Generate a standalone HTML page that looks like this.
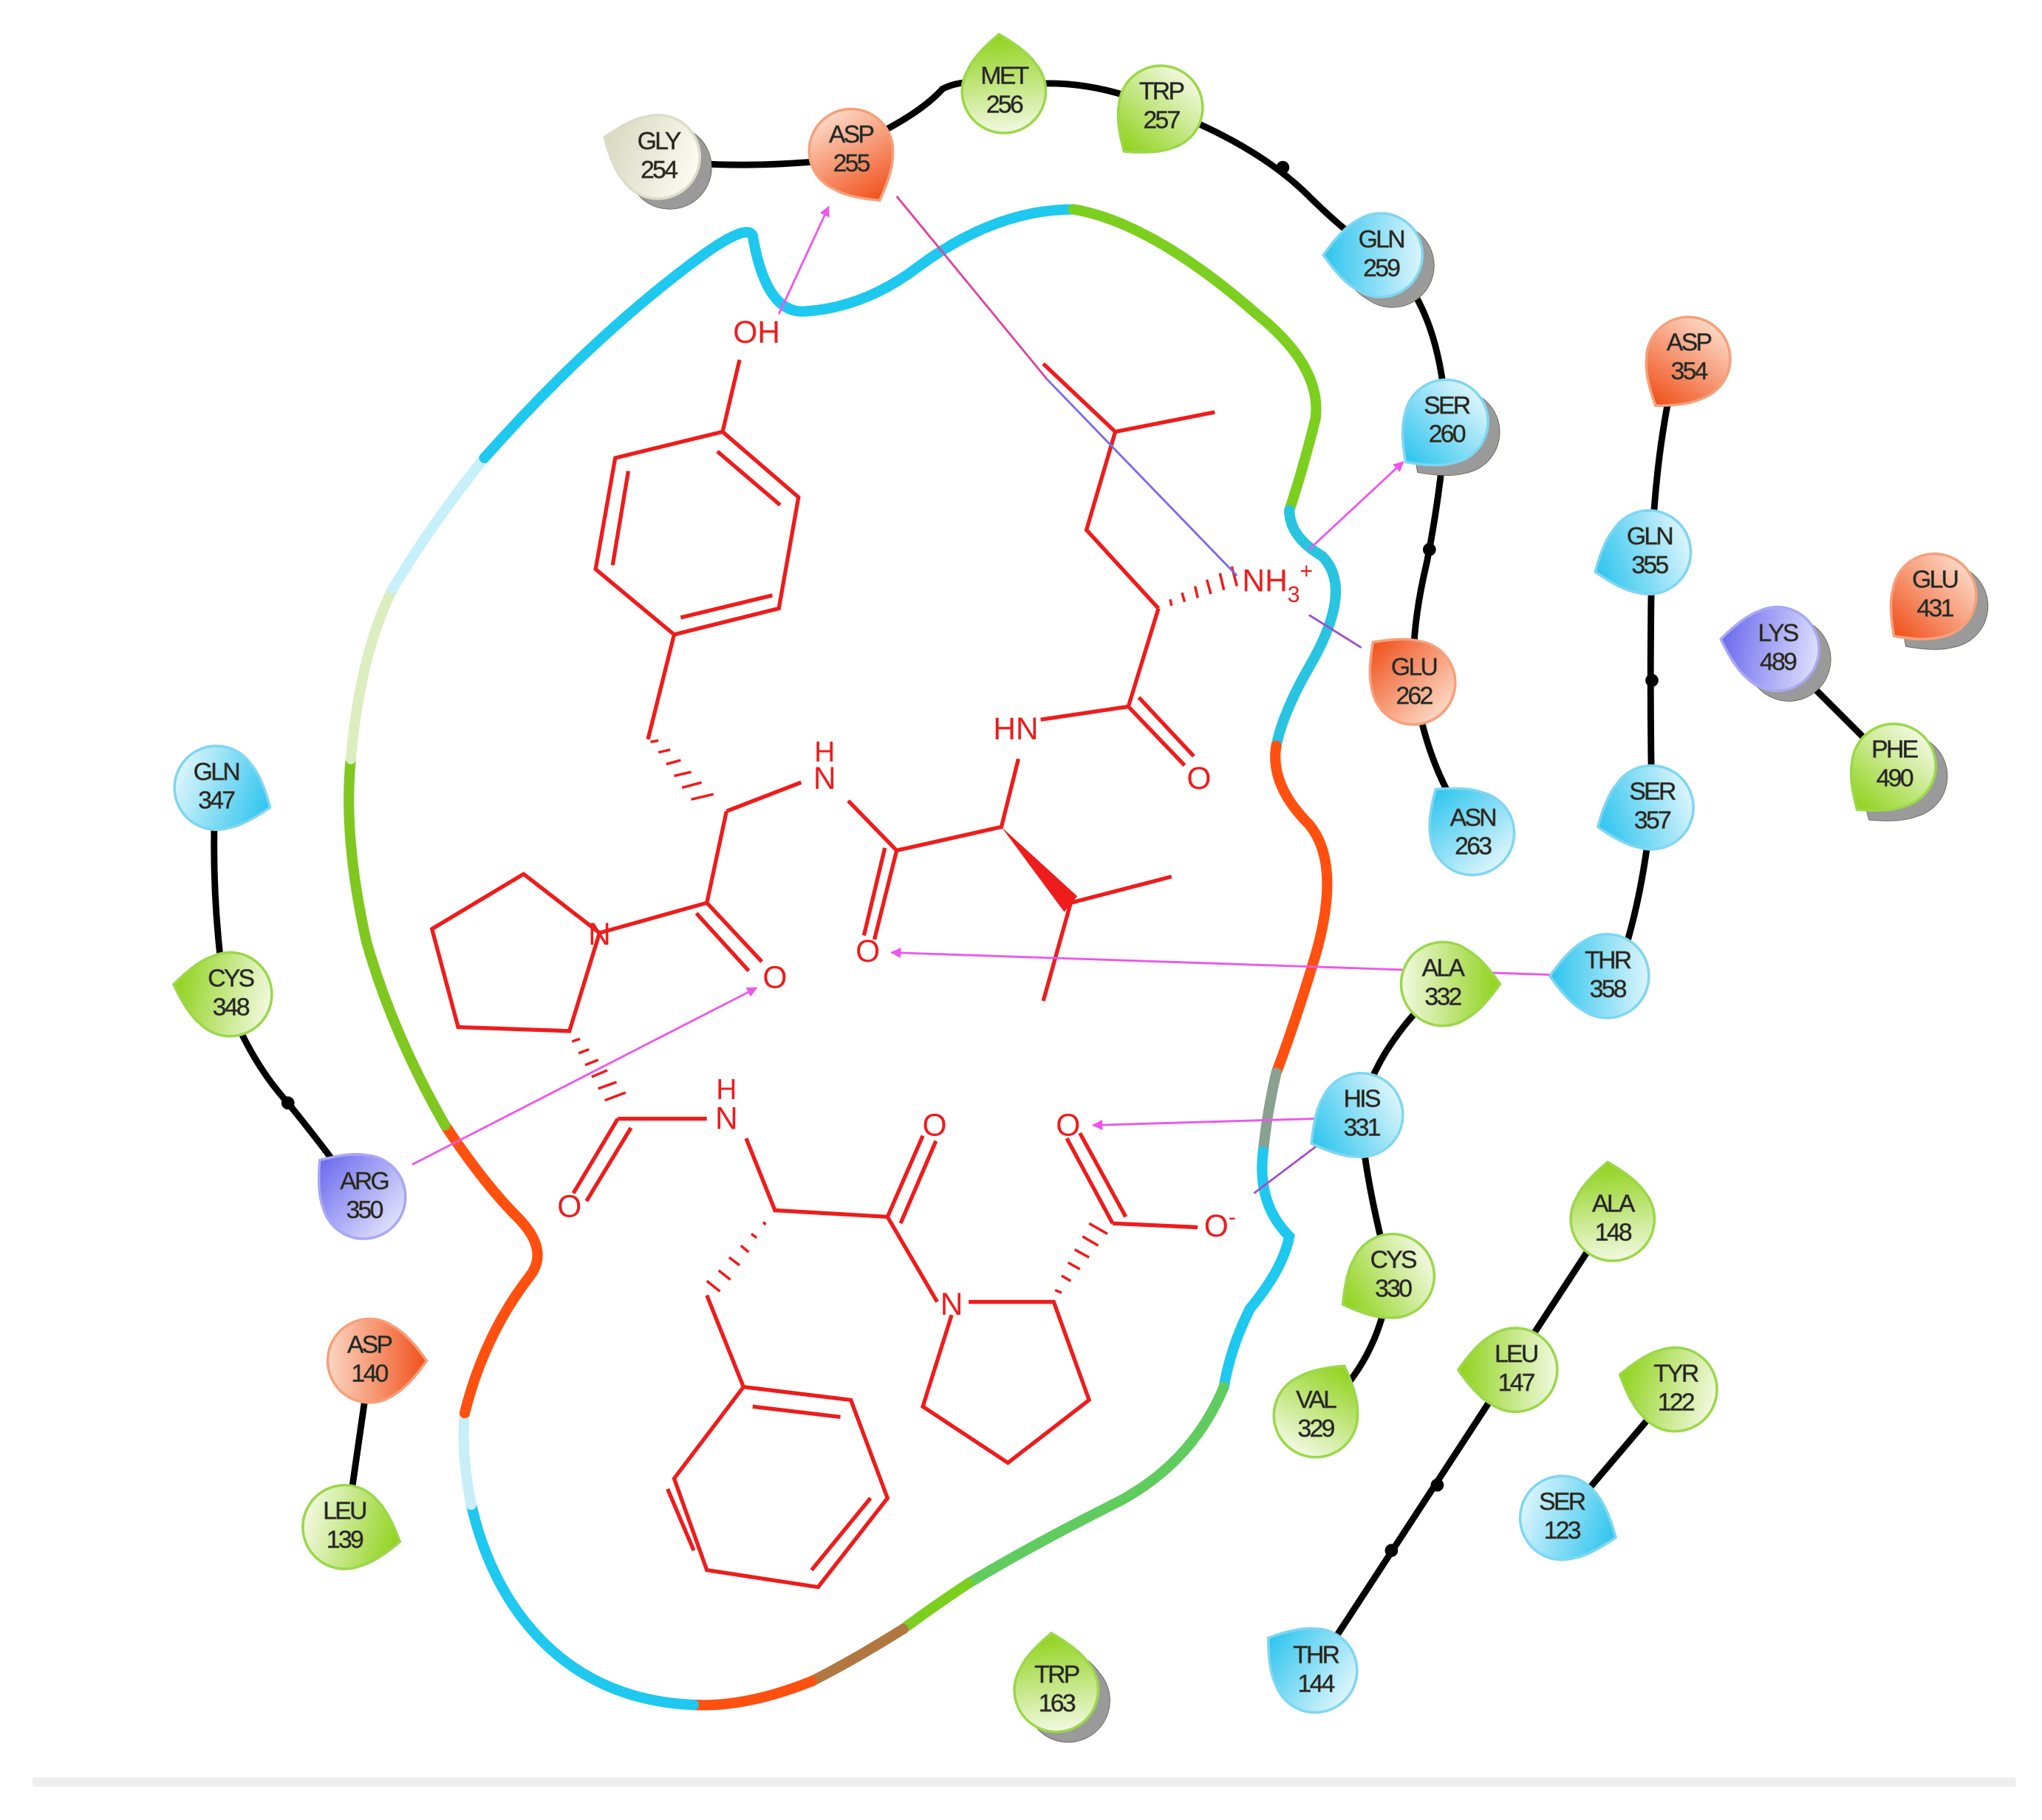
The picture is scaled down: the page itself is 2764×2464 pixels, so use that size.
<!DOCTYPE html>
<html><head><meta charset="utf-8"><style>
html,body{margin:0;padding:0;background:#fff}
svg{display:block}
text{font-family:"Liberation Sans",sans-serif}
</style></head><body>
<svg width="2764" height="2464" viewBox="0 0 1560 1391" preserveAspectRatio="none" xmlns="http://www.w3.org/2000/svg">
<defs>
<linearGradient id="gG" gradientUnits="userSpaceOnUse" x1="44" y1="0" x2="-30" y2="0"><stop offset="0" stop-color="#8fd21a"/><stop offset="1" stop-color="#f0f8dc"/></linearGradient>
<linearGradient id="gC" gradientUnits="userSpaceOnUse" x1="44" y1="0" x2="-30" y2="0"><stop offset="0" stop-color="#2cc4ee"/><stop offset="1" stop-color="#d8f4fc"/></linearGradient>
<linearGradient id="gO" gradientUnits="userSpaceOnUse" x1="44" y1="0" x2="-30" y2="0"><stop offset="0" stop-color="#f0501a"/><stop offset="1" stop-color="#fcd4c0"/></linearGradient>
<linearGradient id="gP" gradientUnits="userSpaceOnUse" x1="44" y1="0" x2="-30" y2="0"><stop offset="0" stop-color="#6a6aee"/><stop offset="1" stop-color="#dcdcfc"/></linearGradient>
<linearGradient id="gW" gradientUnits="userSpaceOnUse" x1="44" y1="0" x2="-30" y2="0"><stop offset="0" stop-color="#d8d8c0"/><stop offset="1" stop-color="#fafaf2"/></linearGradient>
<path id="tear" d="M44 0 Q30 -20 19 -26 A32 32 0 1 0 19 26 Q30 20 44 0 Z"/>
<g id="G"><use href="#tear" fill="url(#gG)" stroke="#9ad84a" stroke-width="2"/></g>
<g id="C"><use href="#tear" fill="url(#gC)" stroke="#7fd6f2" stroke-width="2"/></g>
<g id="O"><use href="#tear" fill="url(#gO)" stroke="#f6a07a" stroke-width="2"/></g>
<g id="P"><use href="#tear" fill="url(#gP)" stroke="#a8a8f4" stroke-width="2"/></g>
<g id="W"><use href="#tear" fill="url(#gW)" stroke="#dcdcc8" stroke-width="2"/></g>
<g id="S"><use href="#tear" fill="#9a9a9a"/></g>
<marker id="ar" viewBox="0 0 10 10" refX="9" refY="5" markerWidth="5" markerHeight="5" orient="auto"><path d="M0 0L10 5L0 10Z" fill="#ee55ee"/></marker>
</defs>

<g fill="none" stroke="#000" stroke-width="5" stroke-linecap="round">
<path d="M503 122 Q560 130 640 122"/>
<path d="M650 112 Q700 90 720 68 Q740 58 765 68 Q820 55 885 82"/>
<path d="M885 82 Q960 110 1000 150 Q1030 180 1055 195"/>
<path d="M1055 195 Q1100 230 1105 322"/>
<path d="M1105 322 Q1100 380 1090 430 Q1078 480 1080 520"/>
<path d="M1080 520 Q1090 590 1125 635"/>
<path d="M1282 272 Q1265 340 1262 420 Q1260 520 1262 615 Q1255 690 1235 745"/>
<path d="M1355 495 L1445 585"/>
<path d="M1105 750 Q1050 800 1040 850 Q1040 890 1062 975 Q1055 1040 1008 1080"/>
<path d="M1230 930 L1155 1045 L1005 1275"/>
<path d="M1280 1060 L1195 1160"/>
<path d="M165 600 Q160 680 172 760 Q190 810 220 843 Q250 880 275 915"/>
<path d="M283 1040 L265 1165"/>
</g>
<g fill="#000"><circle cx="980" cy="128" r="5"/><circle cx="1092" cy="420" r="5"/><circle cx="1262" cy="520" r="5"/><circle cx="1098" cy="1135" r="5"/><circle cx="1063" cy="1185" r="5"/><circle cx="220" cy="843" r="5"/></g>

<g fill="none" stroke-width="8" stroke-linecap="round">
<path stroke="#1ec8ee" d="M575 180 Q585 240 615 238 Q660 235 700 205 Q760 160 820 160"/>
<path stroke="#7ccf1e" d="M820 160 Q880 170 960 240 Q1010 280 1005 320 Q995 360 985 390"/>
<path stroke="#28c4e0" d="M985 390 Q985 410 1010 425 Q1035 450 1000 510 Q980 545 975 570"/>
<path stroke="#ff5010" d="M975 570 Q970 600 1000 630 Q1025 660 1005 730 Q990 780 975 820"/>
<path stroke="#8aa090" d="M975 820 Q968 850 965 880"/>
<path stroke="#1ec8ee" d="M965 880 Q960 920 985 945 Q980 970 955 1000 Q940 1030 935 1060"/>
<path stroke="#60cc60" d="M935 1060 Q910 1120 850 1150 Q790 1180 740 1210"/>
<path stroke="#7ccf1e" d="M740 1210 Q710 1230 690 1245"/>
<path stroke="#b07840" d="M690 1245 Q650 1270 620 1285"/>
<path stroke="#ff5010" d="M620 1285 Q570 1305 530 1303"/>
<path stroke="#1ec8ee" d="M530 1303 Q460 1300 415 1255 Q375 1215 360 1150"/>
<path stroke="#c8eef8" d="M360 1150 Q352 1110 355 1080"/>
<path stroke="#ff5010" d="M355 1080 Q370 1020 405 975 Q420 955 395 930 Q370 905 340 860"/>
<path stroke="#80c820" d="M340 860 Q300 790 280 720 Q262 640 268 580"/>
<path stroke="#dceec0" d="M268 580 Q275 500 300 450"/>
<path stroke="#c8f0fa" d="M300 450 Q330 400 370 350"/>
<path stroke="#1ec8ee" d="M370 350 Q450 260 530 200 Q570 170 575 180"/>
</g>

<g fill="none" stroke="#ee1c1c" stroke-width="3">
<path d="M552 330 L610 380 L595 465 L515 485 L455 435 L470 350 Z"/>
<path d="M548 345 L596 386 M590 455 L520 472 M468 432 L480 360"/>
<path d="M552 330 L565 275"/>
<path d="M515 485 L495 565"/>
<path d="M555 620 L612 598 M648 612 L685 650"/>
<path d="M555 620 L540 690 L458 713 L400 668 L330 710 L350 785 L435 788 L458 713"/>
<path d="M540 690 L582 735 M532 698 L572 742"/>
<path d="M472 855 L540 855"/>
<path d="M472 855 L438 912 M482 862 L448 918"/>
<path d="M570 870 L592 925 L678 930 L716 995"/>
<path d="M678 930 L705 868 M688 935 L715 872"/>
<path d="M727 1005 L705 1075 L770 1118 L832 1070 L805 995 L740 995"/>
<path d="M850 935 L915 938"/>
<path d="M850 935 L815 870 M860 930 L825 866"/>
<path d="M540 990 L568 1060"/>
<path d="M568 1060 L650 1070 L678 1145 L625 1213 L540 1200 L515 1130 Z"/>
<path d="M575 1075 L642 1083 M665 1145 L620 1200 M530 1185 L510 1138"/>
<path d="M685 650 L765 632 L778 580"/>
<path d="M685 650 L668 718 M676 648 L660 715"/>
<path d="M818 690 L895 670 M818 690 L797 765"/>
<path d="M795 550 L862 540 L885 465"/>
<path d="M862 540 L905 585 M870 533 L912 578"/>
<path d="M885 465 L830 405 L852 330 L928 315 M852 330 L797 278"/>
</g>
<path d="M765 632 L813 697 L823 685 Z" fill="#ee1c1c"/>
<g stroke="#ee1c1c" stroke-width="2">
<path d="M497 567 l6 -1 M503 575 l9 -2 M509 584 l11 -3 M515 593 l13 -3 M521 602 l15 -4 M528 611 l17 -4"/>
<path d="M437 796 l6 -2 M442 805 l8 -3 M447 814 l10 -4 M452 823 l12 -5 M457 832 l14 -5 M462 841 l16 -6"/>
<path d="M583 934 l2 2 M574 943 l4 3 M566 952 l6 5 M557 961 l8 6 M549 971 l9 7 M540 979 l10 8"/>
<path d="M811 988 l-5 -2 M818 979 l-7 -4 M825 970 l-9 -5 M832 961 l-11 -6 M839 952 l-12 -7 M846 943 l-14 -8"/>
<path d="M895 463 l-1 -5 M905 460 l-2 -7 M915 457 l-2 -9 M925 454 l-3 -11 M935 451 l-3 -13 M945 448 l-4 -15"/>
</g>
<g fill="#ee1c1c" font-size="24" text-anchor="middle">
<text x="578" y="262">OH</text>
<text x="630" y="582" font-size="22">H</text><text x="630" y="603">N</text>
<text x="458" y="722">N</text>
<text x="592" y="755">O</text>
<text x="663" y="735">O</text>
<text x="916" y="603">O</text>
<text x="776" y="565">HN</text>
<text x="976" y="452">NH<tspan font-size="17" dy="8">3</tspan><tspan font-size="17" dy="-18">+</tspan></text>
<text x="555" y="840" font-size="22">H</text><text x="555" y="863">N</text>
<text x="435" y="930">O</text>
<text x="714" y="868">O</text>
<text x="816" y="868">O</text>
<text x="727" y="1005">N</text>
<text x="932" y="945">O<tspan font-size="17" dy="-9">-</tspan></text>
</g>

<g fill="none" stroke-width="1.6">
<path stroke="#ee55ee" d="M595 240 L633 158" marker-end="url(#ar)"/>
<path stroke="#e040a0" d="M685 150 L800 290"/>
<path stroke="#7a6ae8" d="M800 290 L945 440"/>
<path stroke="#ee55ee" d="M1000 420 L1072 353" marker-end="url(#ar)"/>
<path stroke="#a050c8" d="M1000 470 L1040 495"/>
<path stroke="#ee55ee" d="M1185 745 L681 728" marker-end="url(#ar)"/>
<path stroke="#ee55ee" d="M1005 855 L835 860" marker-end="url(#ar)"/>
<path stroke="#a050c8" d="M1007 875 L958 912"/>
<path stroke="#ee55ee" d="M315 890 L578 755" marker-end="url(#ar)"/>
</g>

<g font-size="19" text-anchor="middle" fill="#222" letter-spacing="-1.5" stroke="#554" stroke-width="0.4">
<g transform="translate(503,120)"><use href="#S" transform="translate(9,8) rotate(200)"/><use href="#W" transform="rotate(200)"/><text y="-6">GLY</text><text y="16">254</text></g>
<g transform="translate(650,115)"><use href="#O" transform="rotate(60)"/><text y="-6">ASP</text><text y="16">255</text></g>
<g transform="translate(767,70)"><use href="#G" transform="rotate(-95)"/><text y="-6">MET</text><text y="16">256</text></g>
<g transform="translate(887,82)"><use href="#G" transform="rotate(130)"/><text y="-6">TRP</text><text y="16">257</text></g>
<g transform="translate(1055,195)"><use href="#S" transform="translate(9,8) rotate(180)"/><use href="#C" transform="rotate(180)"/><text y="-6">GLN</text><text y="16">259</text></g>
<g transform="translate(1105,322)"><use href="#S" transform="translate(9,8) rotate(135)"/><use href="#C" transform="rotate(135)"/><text y="-6">SER</text><text y="16">260</text></g>
<g transform="translate(1080,522)"><use href="#O" transform="rotate(-135)"/><text y="-6">GLU</text><text y="16">262</text></g>
<g transform="translate(1125,637)"><use href="#C" transform="rotate(-130)"/><text y="-6">ASN</text><text y="16">263</text></g>
<g transform="translate(1290,274)"><use href="#O" transform="rotate(125)"/><text y="-6">ASP</text><text y="16">354</text></g>
<g transform="translate(1260,422)"><use href="#C" transform="rotate(160)"/><text y="-6">GLN</text><text y="16">355</text></g>
<g transform="translate(1478,455)"><use href="#S" transform="translate(9,8) rotate(135)"/><use href="#O" transform="rotate(135)"/><text y="-6">GLU</text><text y="16">431</text></g>
<g transform="translate(1358,496)"><use href="#S" transform="translate(9,8) rotate(190)"/><use href="#P" transform="rotate(190)"/><text y="-6">LYS</text><text y="16">489</text></g>
<g transform="translate(1447,585)"><use href="#S" transform="translate(9,8) rotate(130)"/><use href="#G" transform="rotate(130)"/><text y="-6">PHE</text><text y="16">490</text></g>
<g transform="translate(1262,617)"><use href="#C" transform="rotate(160)"/><text y="-6">SER</text><text y="16">357</text></g>
<g transform="translate(1228,746)"><use href="#C" transform="rotate(180)"/><text y="-6">THR</text><text y="16">358</text></g>
<g transform="translate(1102,752)"><use href="#G" transform="rotate(0)"/><text y="-6">ALA</text><text y="16">332</text></g>
<g transform="translate(1040,852)"><use href="#C" transform="rotate(150)"/><text y="-6">HIS</text><text y="16">331</text></g>
<g transform="translate(1064,975)"><use href="#G" transform="rotate(150)"/><text y="-6">CYS</text><text y="16">330</text></g>
<g transform="translate(1232,932)"><use href="#G" transform="rotate(-95)"/><text y="-6">ALA</text><text y="16">148</text></g>
<g transform="translate(1005,1082)"><use href="#G" transform="rotate(-60)"/><text y="-6">VAL</text><text y="16">329</text></g>
<g transform="translate(1158,1047)"><use href="#G" transform="rotate(180)"/><text y="-6">LEU</text><text y="16">147</text></g>
<g transform="translate(1280,1062)"><use href="#G" transform="rotate(-165)"/><text y="-6">TYR</text><text y="16">122</text></g>
<g transform="translate(1193,1160)"><use href="#C" transform="rotate(20)"/><text y="-6">SER</text><text y="16">123</text></g>
<g transform="translate(1005,1277)"><use href="#C" transform="rotate(-145)"/><text y="-6">THR</text><text y="16">144</text></g>
<g transform="translate(807,1292)"><use href="#S" transform="translate(9,8) rotate(-95)"/><use href="#G" transform="rotate(-95)"/><text y="-6">TRP</text><text y="16">163</text></g>
<g transform="translate(165,602)"><use href="#C" transform="rotate(20)"/><text y="-6">GLN</text><text y="16">347</text></g>
<g transform="translate(176,760)"><use href="#G" transform="rotate(190)"/><text y="-6">CYS</text><text y="16">348</text></g>
<g transform="translate(278,915)"><use href="#P" transform="rotate(-140)"/><text y="-6">ARG</text><text y="16">350</text></g>
<g transform="translate(282,1040)"><use href="#O" transform="rotate(0)"/><text y="-6">ASP</text><text y="16">140</text></g>
<g transform="translate(263,1167)"><use href="#G" transform="rotate(15)"/><text y="-6">LEU</text><text y="16">139</text></g>
</g>

<line x1="25" y1="1362" x2="1540" y2="1362" stroke="#eeeeee" stroke-width="7"/>
</svg>
</body></html>
